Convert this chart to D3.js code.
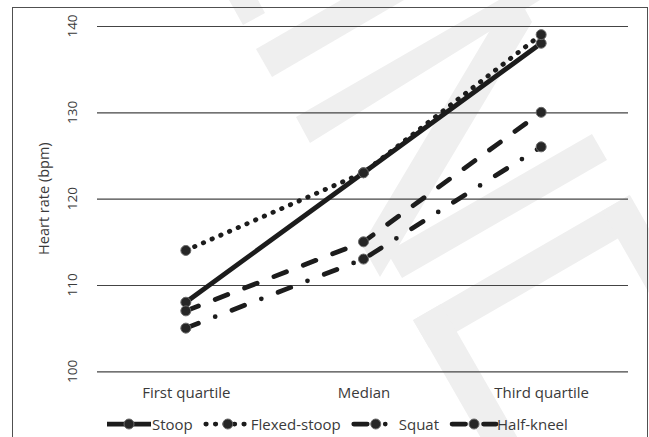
<!DOCTYPE html>
<html>
<head>
<meta charset="utf-8">
<script src="https://cdn.jsdelivr.net/npm/d3@7/dist/d3.min.js"></script>
<style>
  html, body { margin: 0; padding: 0; background: #fff; }
  svg { display: block; }
  text { font-family: "Open Sans", "Noto Sans", sans-serif; fill: #3a3a3a; }
</style>
</head>
<body>
<svg id="chart" width="649" height="437"></svg>
<script>
const categories = ["First quartile", "Median", "Third quartile"];
const seriesNames = ["Stoop", "Flexed-stoop", "Squat", "Half-kneel"];
const stoop = [108, 123, 138];
const flexedStoop = [114, 123, 139];
const squat = [105, 113, 126];
const halfKneel = [107, 115, 130];
const yTicks = [100, 110, 120, 130, 140];
const yTitle = "Heart rate (bpm)";

const seriesValues = [stoop, flexedStoop, squat, halfKneel];
const dashStyles = [null, "0.5,9", "13.5,18,0,18", "13.5,18"];

const W = 649, H = 437;
const svg = d3.select("#chart");
svg.append("rect").attr("width", W).attr("height", H).attr("fill", "#fff");

// faint background watermark (decorative)
const wm = svg.append("g").attr("fill", "#efefef");
function band(p1, p2, w) {
  const dx = p2[0] - p1[0], dy = p2[1] - p1[1], L = Math.hypot(dx, dy);
  const nx = -dy / L * w / 2, ny = dx / L * w / 2;
  return [[p1[0] + nx, p1[1] + ny], [p2[0] + nx, p2[1] + ny], [p2[0] - nx, p2[1] - ny], [p1[0] - nx, p1[1] - ny]];
}
const wmPolys = [
  [[229,0],[258,0],[265,13],[243,25]],
  [[256,49],[341,0],[404,0],[272,77]],
  [[296,117],[499,0],[540,0],[310,143]],
  [[387,252],[592,134],[607,160],[402,278]],
  [[508,0],[520,0],[532,22],[380,277],[362,245]],
  band([421,334],[637,209],32),
  band([427,312],[512,460],32),
  band([616,203],[700,350],32)
];
wm.selectAll("polygon").data(wmPolys).join("polygon")
  .attr("points", d => d.map(p => p.join(",")).join(" "));

const plot = { left: 97, right: 628, top: 26, bottom: 371.3 };
const x = d3.scalePoint().domain(categories).range([plot.left, 630]).padding(0.5);
const y = d3.scaleLinear().domain([100, 140]).range([plot.bottom, plot.top]);

// frame
svg.append("rect")
  .attr("x", 12.5).attr("y", 7.5).attr("width", 635).attr("height", 440)
  .attr("fill", "none").attr("stroke", "#505050").attr("stroke-width", 1);

// gridlines
const yAxis = d3.axisLeft(y).tickValues(yTicks).tickSize(-(plot.right - plot.left)).tickFormat("");
const gy = svg.append("g").attr("transform", `translate(${plot.left},0)`).call(yAxis);
gy.select(".domain").remove();
gy.selectAll(".tick line").attr("stroke", "#444").attr("stroke-width", 1.2);

// y tick labels (rotated)
svg.append("g").selectAll("text").data(yTicks).join("text")
  .attr("transform", d => `translate(72,${y(d)}) rotate(-90)`)
  .attr("text-anchor", "middle").attr("dominant-baseline", "central")
  .style("font-size", "13.5px")
  .text(d => d);

// y title
svg.append("text")
  .attr("transform", `translate(43,${(plot.top + plot.bottom) / 2}) rotate(-90)`)
  .attr("text-anchor", "middle").attr("dominant-baseline", "central")
  .style("font-size", "14.5px")
  .text(yTitle);

// x labels
const xAxis = d3.axisBottom(x).tickSize(0).tickPadding(0);
const gx = svg.append("g").attr("transform", `translate(0,${plot.bottom})`).call(xAxis);
gx.select(".domain").remove();
gx.selectAll(".tick text")
  .attr("y", 26.5).attr("dy", null)
  .style("font-size", "15px").style("font-family", "'Open Sans', sans-serif").attr("fill", "#3a3a3a");

// lines
const line = d3.line().x((d, i) => x(categories[i])).y(d => y(d));
seriesValues.forEach((vals, si) => {
  const p = svg.append("path").datum(vals)
    .attr("d", line)
    .attr("fill", "none").attr("stroke", "#1c1c1c").attr("stroke-width", 4.75);
  if (dashStyles[si]) p.attr("stroke-dasharray", dashStyles[si]).attr("stroke-linecap", "round");
  svg.append("g").selectAll("circle").data(vals).join("circle")
    .attr("cx", (d, i) => x(categories[i])).attr("cy", d => y(d)).attr("r", 5)
    .attr("fill", "#262626").attr("stroke", "#6a6a6a").attr("stroke-width", 1);
});

// legend
const legY = 424;
let lx = 107;
const sampleW = 44;
seriesNames.forEach((name, si) => {
  const g = svg.append("g").attr("transform", `translate(${lx},${legY})`);
  const l = g.append("line").attr("x1", 0).attr("x2", sampleW).attr("y1", 0).attr("y2", 0)
    .attr("stroke", "#1c1c1c").attr("stroke-width", 4.75);
  if (dashStyles[si]) l.attr("stroke-dasharray", dashStyles[si]).attr("stroke-linecap", "round");
  g.append("circle").attr("cx", sampleW / 2).attr("cy", 0).attr("r", 5)
    .attr("fill", "#262626").attr("stroke", "#6a6a6a").attr("stroke-width", 1);
  const t = g.append("text").attr("x", sampleW + 1).attr("y", 0)
    .attr("dominant-baseline", "central").style("font-size", "15px").text(name);
  lx += sampleW + 1 + t.node().getComputedTextLength() + 13;
});
</script>
</body>
</html>
